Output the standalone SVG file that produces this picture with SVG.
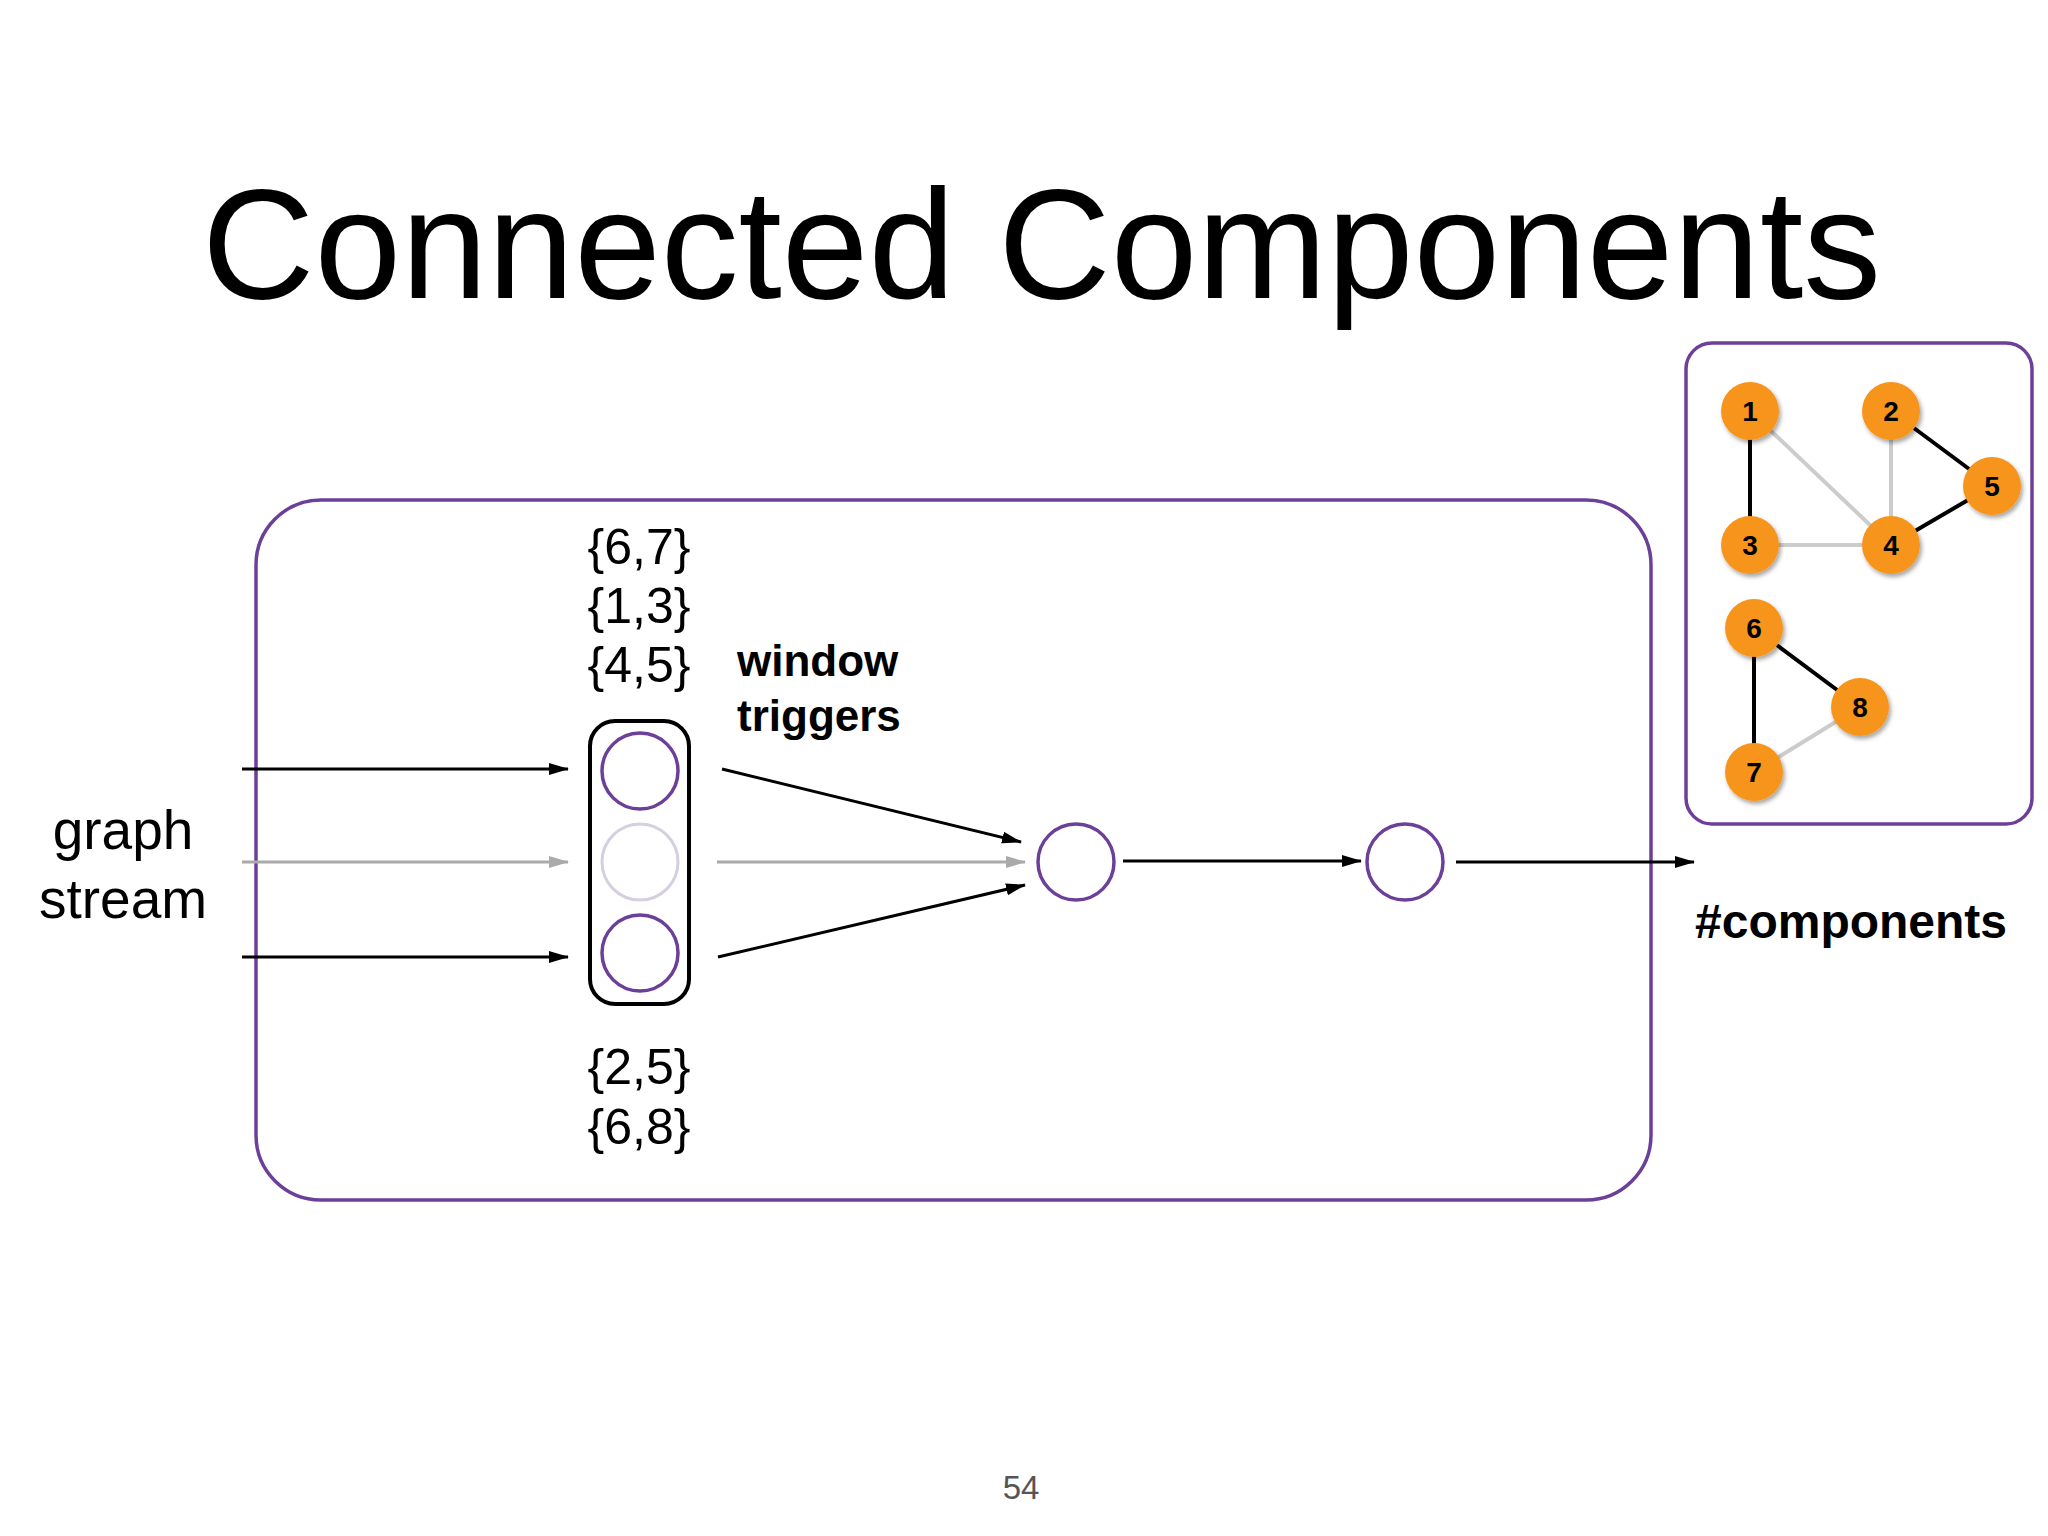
<svg xmlns="http://www.w3.org/2000/svg" width="2048" height="1536" viewBox="0 0 2048 1536">
<style>
.t{font-family:"Liberation Sans",Arial,sans-serif;fill:#000}
.set{font-size:50px;text-anchor:middle}
.b{font-weight:bold}
.pc{fill:none;stroke:#6c3f98;stroke-width:3.5}
.ln{stroke:#000;stroke-width:3}
.gl{stroke:#aaa;stroke-width:3}
.eb{stroke:#000;stroke-width:4}
.eg{stroke:#ccc;stroke-width:4}
.gn{fill:#f7941d;filter:url(#sh)}
.nl{font-family:"Liberation Sans",Arial,sans-serif;font-weight:bold;font-size:28px;text-anchor:middle}
</style>
<defs>
<marker id="a" markerWidth="20" markerHeight="16" refX="19" refY="8" orient="auto" markerUnits="userSpaceOnUse"><path d="M0,2 L20,8 L0,14z" fill="#000"/></marker>
<marker id="g" markerWidth="20" markerHeight="16" refX="19" refY="8" orient="auto" markerUnits="userSpaceOnUse"><path d="M0,2 L20,8 L0,14z" fill="#aaa"/></marker>
<filter id="sh" x="-30%" y="-30%" width="170%" height="170%"><feDropShadow dx="2" dy="3" stdDeviation="2" flood-opacity="0.35"/></filter>
</defs>
<rect width="2048" height="1536" fill="#fff"/>
<text class="t" x="202" y="298" font-size="155" textLength="1679" lengthAdjust="spacingAndGlyphs">Connected Components</text>
<rect x="256" y="500" width="1395" height="700" rx="65" class="pc"/>
<rect x="1686" y="343" width="346" height="481" rx="26" class="pc"/>
<g id="connectors">
<line x1="242" y1="769" x2="568" y2="769" class="ln" marker-end="url(#a)"/>
<line x1="242" y1="862" x2="568" y2="862" class="gl" marker-end="url(#g)"/>
<line x1="242" y1="957" x2="568" y2="957" class="ln" marker-end="url(#a)"/>
<line x1="722" y1="769" x2="1021" y2="842" class="ln" marker-end="url(#a)"/>
<line x1="717" y1="862" x2="1025" y2="862" class="gl" marker-end="url(#g)"/>
<line x1="718" y1="957" x2="1025" y2="885" class="ln" marker-end="url(#a)"/>
<line x1="1123" y1="861" x2="1361" y2="861" class="ln" marker-end="url(#a)"/>
<line x1="1456" y1="862" x2="1694" y2="862" class="ln" marker-end="url(#a)"/>
<line x1="1750" y1="411" x2="1891" y2="545" class="eg"/>
<line x1="1891" y1="411" x2="1891" y2="545" class="eg"/>
<line x1="1750" y1="545" x2="1891" y2="545" class="eg"/>
<line x1="1754" y1="772" x2="1860" y2="707" class="eg"/>
<line x1="1750" y1="411" x2="1750" y2="545" class="eb"/>
<line x1="1891" y1="411" x2="1992" y2="486" class="eb"/>
<line x1="1891" y1="545" x2="1992" y2="486" class="eb"/>
<line x1="1754" y1="628" x2="1754" y2="772" class="eb"/>
<line x1="1754" y1="628" x2="1860" y2="707" class="eb"/>
</g>
<g id="window">
<rect x="590" y="721" width="99" height="283" rx="25" fill="#fff" stroke="#000" stroke-width="4"/>
<circle cx="640" cy="771" r="38" class="pc"/>
<circle cx="640" cy="862" r="38" fill="none" stroke="#d5cfe0" stroke-width="3"/>
<circle cx="640" cy="953" r="38" class="pc"/>
</g>
<g id="n1"><circle cx="1076" cy="862" r="38" class="pc"/></g>
<g id="n2"><circle cx="1405" cy="862" r="38" class="pc"/></g>
<text class="t set" x="639" y="564">{6,7}</text>
<text class="t set" x="639" y="623">{1,3}</text>
<text class="t set" x="639" y="682">{4,5}</text>
<text class="t set" x="639" y="1084">{2,5}</text>
<text class="t set" x="639" y="1144">{6,8}</text>
<text class="t b" x="737" y="676" font-size="44">window</text>
<text class="t b" x="737" y="731" font-size="44">triggers</text>
<text class="t" x="123" y="849" font-size="55" text-anchor="middle">graph</text>
<text class="t" x="123" y="918" font-size="55" text-anchor="middle">stream</text>
<text class="t b" x="1695" y="938" font-size="48">#components</text>
<text class="t" x="1021" y="1499" font-size="33" text-anchor="middle" style="fill:#555">54</text>
<g id="g1"><circle cx="1750" cy="411" r="29" class="gn"/><text class="nl" x="1750" y="421">1</text></g>
<g id="g2"><circle cx="1891" cy="411" r="29" class="gn"/><text class="nl" x="1891" y="421">2</text></g>
<g id="g5"><circle cx="1992" cy="486" r="29" class="gn"/><text class="nl" x="1992" y="496">5</text></g>
<g id="g3"><circle cx="1750" cy="545" r="29" class="gn"/><text class="nl" x="1750" y="555">3</text></g>
<g id="g4"><circle cx="1891" cy="545" r="29" class="gn"/><text class="nl" x="1891" y="555">4</text></g>
<g id="g6"><circle cx="1754" cy="628" r="29" class="gn"/><text class="nl" x="1754" y="638">6</text></g>
<g id="g8"><circle cx="1860" cy="707" r="29" class="gn"/><text class="nl" x="1860" y="717">8</text></g>
<g id="g7"><circle cx="1754" cy="772" r="29" class="gn"/><text class="nl" x="1754" y="782">7</text></g>
</svg>
